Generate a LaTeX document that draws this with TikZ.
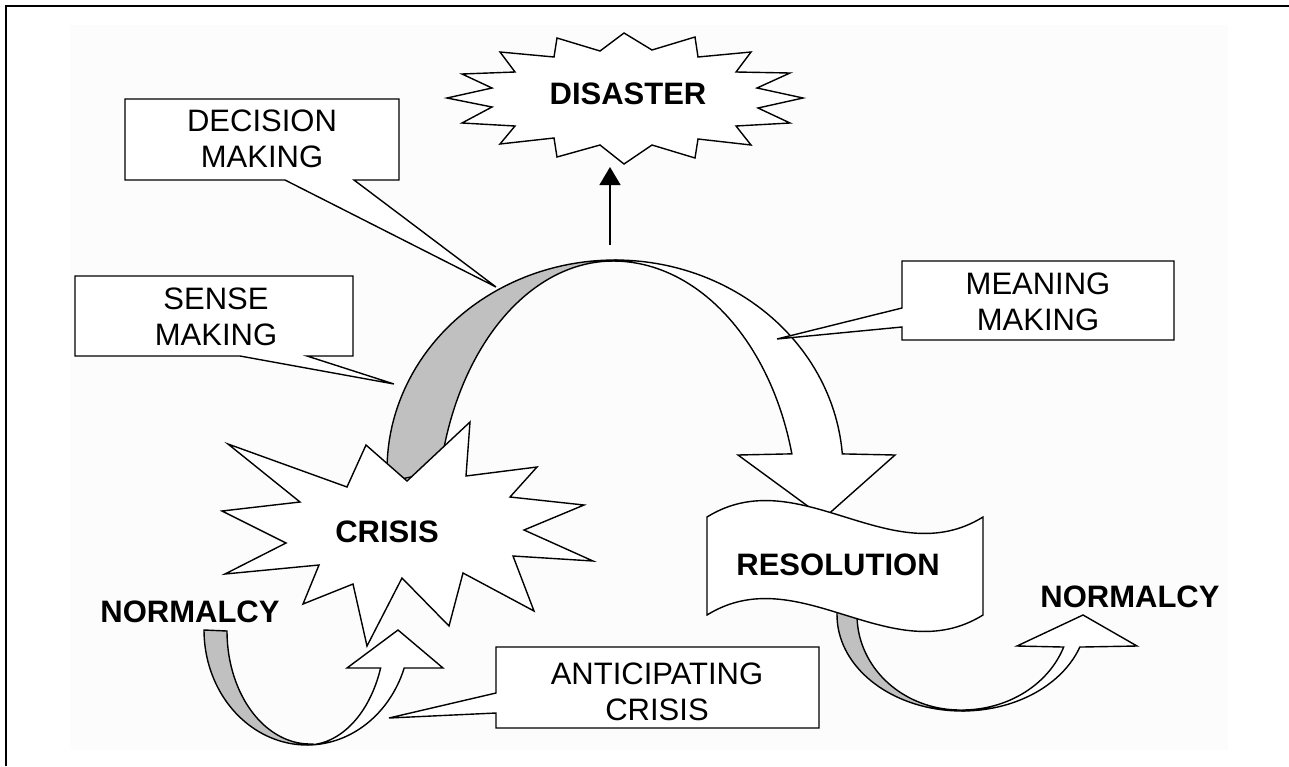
\documentclass[tikz,border=0pt]{standalone}
\usepackage{fontspec}
\setmainfont{Liberation Sans}
\usetikzlibrary{arrows.meta}
\definecolor{bandgray}{RGB}{192,192,192}
\definecolor{paper}{RGB}{252,252,252}
\begin{document}
\begin{tikzpicture}[x=1pt,y=-1pt,
  outline/.style={draw=black,line width=1.4pt,line join=miter},
  shapefill/.style={outline,fill=white},
  bandfill/.style={outline,fill=bandgray},
  lbl/.style={font=\fontsize{31}{36}\selectfont,align=center,inner sep=0pt},
  blbl/.style={font=\fontsize{31}{36}\selectfont\bfseries,align=center,inner sep=0pt}]
\useasboundingbox (0,0) rectangle (1289,766);
\fill[white] (0,0) rectangle (1289,766);
\fill[paper] (70,25) rectangle (1228,750);
\draw[line width=2pt] (5.5,766) -- (5.5,5.5) -- (1289,5.5);

% DISASTER star
\draw[shapefill] (624,33) -- (652,50) -- (695,37) -- (698,57) -- (751,52) -- (736,72) -- (790,73) -- (757,88) -- (803,98) -- (758,108) -- (790,123) -- (736,126) -- (751,145) -- (698,139) -- (695,158) -- (652,145) -- (624,164) -- (600,145) -- (557,157) -- (554,138) -- (500,144) -- (515,126) -- (462,123) -- (492,107) -- (447,98) -- (492,88) -- (462,74) -- (515,72) -- (500,52) -- (554,57) -- (557,38) -- (600,51) -- cycle;
\node[blbl] (disaster) at (628,94) {DISASTER};
\coordinate (disasterbottom) at (610,167);
\coordinate (archtop) at (610,245);
\draw[line width=1.4pt,-{Triangle[width=21pt,length=18pt]}] (archtop) -- (disasterbottom);

% big arch: gray back face
\draw[bandfill] plot[domain=176.7:270,samples=50] ({615+228*cos(\x)},{470+210*sin(\x)})
  -- plot[domain=270:191,samples=50] ({613+176*cos(\x)},{520+259*sin(\x)}) -- cycle;
% big arch: white front face with head
\draw[shapefill] plot[domain=270:355.6,samples=50] ({615+228*cos(\x)},{470+210*sin(\x)})
  -- (895,455) -- (824,518) -- (738,455)
  -- plot[domain=345.2:270,samples=50] ({613+185*cos(\x)},{520+259*sin(\x)}) -- cycle;

% callouts
\draw[shapefill] (125,99) -- (399,99) -- (399,180) -- (354,180) -- (496,287) -- (285,180) -- (125,180) -- cycle;
\node[lbl] (decision) at (262,139) {DECISION\\MAKING};
\draw[shapefill] (75,276) -- (353,276) -- (353,356) -- (307,356) -- (394,384) -- (240,356) -- (75,356) -- cycle;
\node[lbl] (sense) at (216,317) {SENSE\\MAKING};
\draw[shapefill] (902,261) -- (1174,261) -- (1174,340) -- (902,340) -- (902,327) -- (777,339) -- (902,308) -- cycle;
\node[lbl] (meaning) at (1038,301.5) {MEANING\\MAKING};

% CRISIS star
\draw[shapefill] (228,444) -- (347,487) -- (366,445) -- (407,481) -- (470,422) -- (466,476) -- (537,467) -- (510,497) -- (584,505) -- (524,530) -- (593,561) -- (513,556) -- (534,611) -- (463,573) -- (449,626) -- (402,578) -- (367,646) -- (353,584) -- (303,604) -- (319,565) -- (225,574) -- (286,543) -- (222,511) -- (300,502) -- cycle;
\node[blbl] (crisis) at (387,532) {CRISIS};

% right U-turn arrow
\draw[bandfill] plot[domain=186:90,samples=40] ({962+125*cos(\x)},{615+96*sin(\x)})
  -- plot[domain=90:186,samples=40] ({960+103*cos(\x)},{615+95*sin(\x)}) -- cycle;
\draw[shapefill] plot[domain=90:19.5,samples=40] ({962+125*cos(\x)},{615+96*sin(\x)})
  -- (1137,646) -- (1083,615) -- (1017,646)
  -- plot[domain=19.7:90,samples=40] ({962+108*cos(\x)},{615+95*sin(\x)}) -- cycle;
\node[blbl] (normalcyright) at (1130,597) {NORMALCY};

% RESOLUTION banner
\draw[shapefill] (707,517) .. controls (799,460) and (891,574) .. (983,517) -- (983,615) .. controls (891,672) and (799,558) .. (707,615) -- cycle;
\node[blbl] (resolution) at (838,565) {RESOLUTION};

% left U-turn arrow
\draw[bandfill] plot[domain=180:90,samples=40] ({307+103*cos(\x)},{630+115*sin(\x)})
  -- plot[domain=90:180,samples=40] ({310+83*cos(\x)},{631+113*sin(\x)}) -- cycle;
\draw[shapefill] plot[domain=90:19.3,samples=40] ({307+103*cos(\x)},{630+115*sin(\x)})
  -- (443,668) -- (398,630) -- (347,668)
  -- plot[domain=19.3:90,samples=40] ({307+78*cos(\x)},{630+115*sin(\x)}) -- cycle;
\node[blbl] (normalcyleft) at (190,612) {NORMALCY};

% ANTICIPATING CRISIS callout
\draw[shapefill] (496,647) -- (819,647) -- (819,728) -- (496,728) -- (496,713) -- (389,718) -- (496,693) -- cycle;
\node[lbl] (anticipating) at (657,692) {ANTICIPATING\\CRISIS};
\end{tikzpicture}
\end{document}
